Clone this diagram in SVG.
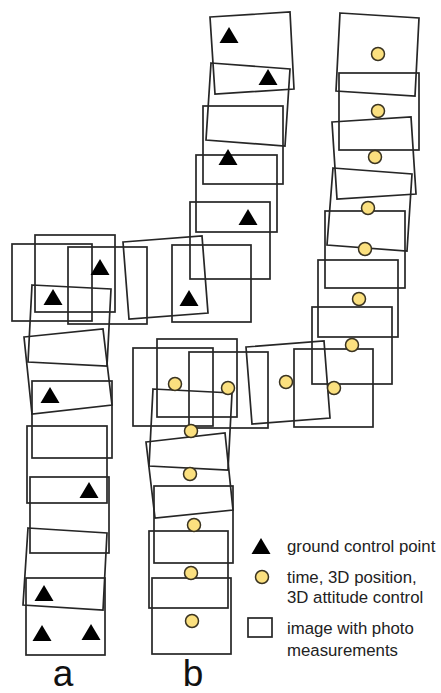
<svg xmlns="http://www.w3.org/2000/svg" width="441" height="693" viewBox="0 0 441 693">
<defs>
<style>
.img{fill:none;stroke:#262626;stroke-width:1.7}
.gcp{fill:#000}
.pos{fill:#fbe07f;stroke:#3a3320;stroke-width:1.5}
.t{font-family:"Liberation Sans",Arial,sans-serif;font-size:16.8px;fill:#222}
.lbl{font-family:"Liberation Sans",Arial,sans-serif;font-size:37px;fill:#111}
</style>
<polygon id="tri" points="0,-8 9.5,8 -9.5,8"/>
</defs>
<rect width="441" height="693" fill="#fff"/>
<g id="strip-a">
<rect class="img" x="12" y="244" width="80" height="77"/>
<rect class="img" x="35" y="235" width="80" height="77"/>
<rect class="img" x="68" y="247" width="79" height="77"/>
<polygon class="img" points="32,285 111,289 107,366 28,362"/>
<polygon class="img" points="24,337 103,329 112,405 32,414"/>
<rect class="img" x="32" y="381" width="80" height="77"/>
<rect class="img" x="27" y="426" width="80" height="77"/>
<rect class="img" x="30" y="477" width="79" height="76"/>
<polygon class="img" points="28,528 107,533 103,610 23,605"/>
<rect class="img" x="26" y="578" width="79" height="77"/>
<use href="#tri" class="gcp" x="100" y="267"/>
<use href="#tri" class="gcp" x="53" y="297"/>
<use href="#tri" class="gcp" x="50" y="395"/>
<use href="#tri" class="gcp" x="89" y="490"/>
<use href="#tri" class="gcp" x="44" y="593"/>
<use href="#tri" class="gcp" x="42" y="633"/>
<use href="#tri" class="gcp" x="91" y="632"/>
</g>
<g id="strip-r">
<polygon class="img" points="210,17 290,12 294,89 215,94"/>
<polygon class="img" points="211,63 290,69 285,146 206,140"/>
<rect class="img" x="203" y="106" width="80" height="78"/>
<rect class="img" x="196" y="155" width="81" height="77"/>
<rect class="img" x="190" y="202" width="80" height="77"/>
<use href="#tri" class="gcp" x="229" y="35"/>
<use href="#tri" class="gcp" x="268" y="77"/>
<use href="#tri" class="gcp" x="228" y="157"/>
<use href="#tri" class="gcp" x="248" y="217"/>
</g>
<g id="strip-b-top">
<polygon class="img" points="123,242 202,236 208,313 129,319"/>
<rect class="img" x="172" y="245" width="79" height="77"/>
<use href="#tri" class="gcp" x="189" y="298"/>
</g>
<g id="strip-b">
<rect class="img" x="133" y="348" width="80" height="78"/>
<rect class="img" x="157" y="339" width="80" height="78"/>
<rect class="img" x="189" y="352" width="79" height="76"/>
<polygon class="img" points="153,389 232,393 228,470 149,466"/>
<polygon class="img" points="146,442 225,433 233,510 155,518"/>
<rect class="img" x="154" y="486" width="79" height="77"/>
<rect class="img" x="149" y="531" width="79" height="77"/>
<rect class="img" x="152" y="578" width="79" height="76"/>
<circle class="pos" cx="175" cy="384" r="6.5"/>
<circle class="pos" cx="228" cy="388" r="6.5"/>
<circle class="pos" cx="191" cy="431" r="6.5"/>
<circle class="pos" cx="190" cy="474" r="6.5"/>
<circle class="pos" cx="194" cy="525" r="6.5"/>
<circle class="pos" cx="191" cy="573" r="6.5"/>
<circle class="pos" cx="192" cy="621" r="6.5"/>
</g>
<g id="strip-c">
<polygon class="img" points="340,13 419,18 415,96 336,91"/>
<rect class="img" x="339" y="73" width="80" height="77"/>
<polygon class="img" points="332,122 411,117 416,194 337,199"/>
<polygon class="img" points="333,168 412,174 407,251 327,245"/>
<rect class="img" x="325" y="211" width="80" height="77"/>
<rect class="img" x="318" y="260" width="80" height="77"/>
<rect class="img" x="312" y="307" width="80" height="77"/>
<rect class="img" x="294" y="349" width="79" height="78"/>
<polygon class="img" points="246,347 324,341 330,418 252,424"/>
<circle class="pos" cx="378" cy="54" r="6.5"/>
<circle class="pos" cx="378" cy="111" r="6.5"/>
<circle class="pos" cx="375" cy="157" r="6.5"/>
<circle class="pos" cx="368" cy="208" r="6.5"/>
<circle class="pos" cx="365" cy="249" r="6.5"/>
<circle class="pos" cx="359" cy="299" r="6.5"/>
<circle class="pos" cx="352" cy="345" r="6.5"/>
<circle class="pos" cx="334" cy="388" r="6.5"/>
<circle class="pos" cx="286" cy="382" r="6.5"/>
</g>
<g id="labels">
<text class="lbl" x="63" y="686" text-anchor="middle">a</text>
<text class="lbl" x="193" y="686" text-anchor="middle">b</text>
</g>
<g id="legend">
<use href="#tri" class="gcp" x="261" y="546"/>
<text class="t" x="287" y="552">ground control point</text>
<circle class="pos" cx="262" cy="577" r="6.5"/>
<text class="t" x="287" y="583">time, 3D position,</text>
<text class="t" x="287" y="603">3D attitude control</text>
<rect class="img" x="248" y="618" width="24" height="19"/>
<text class="t" x="287" y="634">image with photo</text>
<text class="t" x="287" y="656">measurements</text>
</g>
</svg>
